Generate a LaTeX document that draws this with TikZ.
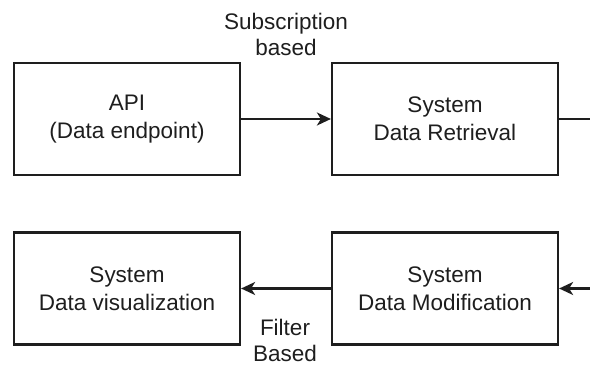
\documentclass[tikz,border=0pt]{standalone}
\usepackage{fontspec}
\setmainfont{Liberation Sans}
\usetikzlibrary{arrows.meta}
\definecolor{ink}{HTML}{1E1E1E}
\tikzset{
  x=1pt,y=1pt,
  box/.style={draw=ink, line width=2.2pt, minimum width=226pt, minimum height=112pt, inner sep=0pt, align=center, text=ink, font=\fontsize{22.5}{28}\selectfont},
  lbl/.style={align=center, text=ink, inner sep=0pt, font=\fontsize{22.5}{26}\selectfont},
  conn/.style={draw=ink, line width=2.2pt},
  arr/.style={conn, -{Stealth[length=14pt,width=13pt,inset=4pt]}}
}
\begin{document}
\begin{tikzpicture}
\useasboundingbox (0,0) rectangle (590,367);
\node[box] (api) at (127,248) {API\\(Data endpoint)};
\node[box] (ret) at (445,248) {System\\Data Retrieval};
\node[box] (vis) at (127,78.5) {System\\Data visualization};
\node[box] (mod) at (445,78.5) {System\\Data Modification};
\coordinate (r1) at (591,248);
\coordinate (r2) at (591,78.5);
\draw[arr] (api.east) -- (ret.west);
\draw[conn] (ret.east) -- (r1);
\draw[arr] (r2) -- (mod.east);
\draw[arr] (mod.west) -- (vis.east);
\node[lbl] (sub) at (286,333) {Subscription\\based};
\node[lbl] (fil) at (285,27) {Filter\\Based};
\end{tikzpicture}
\end{document}
